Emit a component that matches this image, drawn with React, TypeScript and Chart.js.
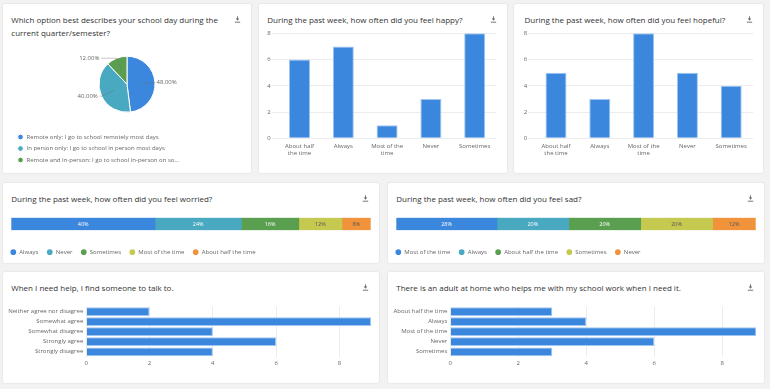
import React, { useEffect, useRef } from 'react';
import { Chart, registerables } from 'chart.js';

Chart.register(...registerables);

const FONT = "'Open Sans', sans-serif";
Chart.defaults.font.family = FONT;
Chart.defaults.color = '#666';

// ---------- data ----------
const schoolDayLabels = [
  'Remote only: I go to school remotely most days',
  'In person only: I go to school in person most days',
  'Remote and In-person: I go to school in-person on so...',
];
const schoolDayValues = [48, 40, 12];

const frequencyTickLabels: (string | string[])[] = [
  ['About half', 'the time'],
  'Always',
  ['Most of the', 'time'],
  'Never',
  'Sometimes',
];
const happyValues = [6, 7, 1, 3, 8];
const hopefulValues = [5, 3, 8, 5, 4];

const worriedLabels = ['Always', 'Never', 'Sometimes', 'Most of the time', 'About half the time'];
const worriedValues = [40, 24, 16, 12, 8];

const sadLabels = ['Most of the time', 'Always', 'About half the time', 'Sometimes', 'Never'];
const sadValues = [28, 20, 20, 20, 12];

const talkLabels = [
  'Neither agree nor disagree',
  'Somewhat agree',
  'Somewhat disagree',
  'Strongly agree',
  'Strongly disagree',
];
const talkValues = [2, 9, 4, 6, 4];

const adultLabels = ['About half the time', 'Always', 'Most of the time', 'Never', 'Sometimes'];
const adultValues = [3, 4, 9, 6, 3];

const countTicks = [0, 2, 4, 6, 8];

// ---------- styles ----------
const BLUE = '#3b87dd';
const BLUE_EDGE = '#9fc5f1';
const SEG_COLORS = ['#3b87dd', '#49a9c0', '#5a9f50', '#c5c94f', '#f0933a'];
const SEG_TEXT = ['#ffffff', '#ffffff', '#ffffff', '#555555', '#555555'];
const PIE_COLORS = ['#3b87dd', '#49a9c0', '#5a9f50'];
const GRID = '#ececec';
const TICK_FONT = { size: 6, family: FONT };

type Box = { left: number; top: number; width: number; height: number };

// ---------- plugins ----------
const pieLabelPlugin = {
  id: 'pieLabels',
  afterDatasetsDraw(chart: any) {
    const ctx = chart.ctx;
    const meta = chart.getDatasetMeta(0);
    const data = chart.data.datasets[0].data;
    ctx.save();
    ctx.font = `6px ${FONT}`;
    ctx.fillStyle = '#666';
    ctx.strokeStyle = 'rgba(110,110,110,0.55)';
    ctx.lineWidth = 0.7;
    meta.data.forEach((arc: any, i: number) => {
      const { x, y, startAngle, endAngle, outerRadius } = arc.getProps(
        ['x', 'y', 'startAngle', 'endAngle', 'outerRadius'],
        true
      );
      const mid = (startAngle + endAngle) / 2;
      const cx = Math.cos(mid);
      const cy = Math.sin(mid);
      const x1 = x + cx * outerRadius * 0.5;
      const y1 = y + cy * outerRadius * 0.5;
      const x2 = x + cx * outerRadius;
      const y2 = y + cy * outerRadius;
      const dir = cx >= 0 ? 1 : -1;
      const x3 = x2 + dir * 25 * (1 - Math.abs(cx));
      ctx.beginPath();
      ctx.moveTo(x1, y1);
      ctx.lineTo(x2, y2);
      ctx.lineTo(x3, y2);
      ctx.stroke();
      ctx.textAlign = dir > 0 ? 'left' : 'right';
      ctx.textBaseline = 'middle';
      ctx.fillText(Number(data[i]).toFixed(2) + '%', x3 + dir * 1.5, y2);
    });
    ctx.restore();
  },
};

const segmentLabelPlugin = {
  id: 'segmentLabels',
  afterDatasetsDraw(chart: any) {
    const ctx = chart.ctx;
    ctx.save();
    ctx.font = `5.5px ${FONT}`;
    ctx.textAlign = 'center';
    ctx.textBaseline = 'middle';
    chart.data.datasets.forEach((ds: any, i: number) => {
      const bar = chart.getDatasetMeta(i).data[0];
      const { x, base, y } = bar.getProps(['x', 'base', 'y'], true);
      ctx.fillStyle = SEG_TEXT[i];
      ctx.fillText(ds.data[0] + '%', (x + base) / 2, y + 0.3);
    });
    ctx.restore();
  },
};

// ---------- configs ----------
function pieConfig(): any {
  return {
    type: 'pie',
    data: {
      labels: schoolDayLabels,
      datasets: [
        {
          data: schoolDayValues,
          backgroundColor: PIE_COLORS,
          borderColor: '#ffffff',
          borderWidth: 1,
          radius: 28,
        },
      ],
    },
    options: {
      animation: false,
      responsive: true,
      maintainAspectRatio: false,
      layout: { padding: 0 },
      plugins: {
        legend: {
          position: 'bottom',
          align: 'start',
          labels: {
            usePointStyle: true,
            pointStyle: 'circle',
            boxWidth: 6,
            boxHeight: 4,
            padding: 5.5,
            font: TICK_FONT,
            color: '#666',
          },
        },
        tooltip: { enabled: false },
      },
    },
    plugins: [pieLabelPlugin],
  };
}

function columnConfig(values: number[], padLeft: number, padRight: number): any {
  return {
    type: 'bar',
    data: {
      labels: frequencyTickLabels,
      datasets: [
        {
          data: values,
          backgroundColor: BLUE,
          borderColor: BLUE_EDGE,
          borderWidth: 1,
          categoryPercentage: 0.8,
          barPercentage: 0.6,
        },
      ],
    },
    options: {
      animation: false,
      responsive: true,
      maintainAspectRatio: false,
      layout: { padding: { left: padLeft, right: padRight, top: 5.3, bottom: 9.7 } },
      scales: {
        x: {
          grid: { display: false, drawTicks: false },
          border: { display: false },
          ticks: {
            padding: 5,
            font: { size: 6, family: FONT, lineHeight: 1.15 },
            color: '#666',
            maxRotation: 0,
            autoSkip: false,
          },
          afterFit: (s: any) => {
            s.height = 25;
          },
        },
        y: {
          min: 0,
          max: 8,
          ticks: { padding: 1, font: TICK_FONT, color: '#666' },
          afterBuildTicks: (s: any) => {
            s.ticks = countTicks.map((v) => ({ value: v }));
          },
          grid: { color: GRID, tickLength: 6, lineWidth: 1 },
          border: { display: false },
          afterFit: (s: any) => {
            s.width = 12;
          },
        },
      },
      plugins: { legend: { display: false }, tooltip: { enabled: false } },
    },
  };
}

function stackedConfig(labels: string[], values: number[]): any {
  return {
    type: 'bar',
    data: {
      labels: [''],
      datasets: labels.map((l, i) => ({
        label: l,
        data: [values[i]],
        backgroundColor: SEG_COLORS[i],
        borderWidth: 0,
        categoryPercentage: 1,
        barPercentage: 1,
      })),
    },
    options: {
      indexAxis: 'y',
      animation: false,
      responsive: true,
      maintainAspectRatio: false,
      layout: { padding: { left: 0, right: 8.3, top: 7.7, bottom: 0 } },
      scales: {
        x: {
          stacked: true,
          min: 0,
          max: 100,
          grid: { display: false, drawTicks: false },
          border: { display: false },
          ticks: { display: false },
          afterFit: (s: any) => {
            s.height = 10.7;
          },
        },
        y: {
          stacked: true,
          grid: { display: false, drawTicks: false },
          border: { display: false },
          ticks: { display: false },
          afterFit: (s: any) => {
            s.width = 9.3;
          },
        },
      },
      plugins: {
        legend: {
          position: 'bottom',
          align: 'start',
          labels: {
            usePointStyle: true,
            pointStyle: 'circle',
            boxWidth: 6,
            boxHeight: 4,
            padding: 8.3,
            font: TICK_FONT,
            color: '#666',
          },
        },
        tooltip: { enabled: false },
      },
    },
    plugins: [segmentLabelPlugin],
  };
}

function hbarConfig(labels: string[], values: number[], axisWidth: number, padRight: number): any {
  return {
    type: 'bar',
    data: {
      labels,
      datasets: [
        {
          data: values,
          backgroundColor: BLUE,
          borderColor: BLUE_EDGE,
          borderWidth: 1,
          categoryPercentage: 1,
          barPercentage: 0.87,
        },
      ],
    },
    options: {
      indexAxis: 'y',
      animation: false,
      responsive: true,
      maintainAspectRatio: false,
      layout: { padding: { left: 0, right: padRight, top: 4.8, bottom: 14.2 } },
      scales: {
        x: {
          min: 0,
          max: 9,
          ticks: { padding: 2.5, font: TICK_FONT, color: '#666' },
          afterBuildTicks: (s: any) => {
            s.ticks = countTicks.map((v) => ({ value: v }));
          },
          grid: { color: GRID, drawTicks: false },
          border: { display: false },
          afterFit: (s: any) => {
            s.height = 12;
          },
        },
        y: {
          grid: { display: false, drawTicks: false },
          border: { display: false },
          ticks: { padding: 3, font: TICK_FONT, color: '#666', autoSkip: false },
          afterFit: (s: any) => {
            s.width = axisWidth;
          },
        },
      },
      plugins: { legend: { display: false }, tooltip: { enabled: false } },
    },
  };
}

// ---------- components ----------
function ChartBox({ box, make }: { box: Box; make: () => any }) {
  const ref = useRef<HTMLCanvasElement>(null);
  useEffect(() => {
    const chart = new Chart(ref.current as HTMLCanvasElement, make());
    return () => chart.destroy();
  }, []);
  return (
    <div
      style={{
        position: 'absolute',
        left: box.left,
        top: box.top,
        width: box.width,
        height: box.height,
      }}
    >
      <canvas ref={ref} />
    </div>
  );
}

function DownloadIcon() {
  return (
    <svg width="7" height="7" viewBox="0 0 7 7" style={{ display: 'block' }}>
      <path d="M3.5 0.3 V4.2" stroke="#666" strokeWidth="0.9" />
      <path d="M1.6 2.6 L3.5 4.6 L5.4 2.6 Z" fill="#666" />
      <path d="M0.8 6.2 H6.2" stroke="#666" strokeWidth="0.9" />
    </svg>
  );
}

function Card({ box, title, titleLeft = 8.3 }: { box: Box; title: React.ReactNode; titleLeft?: number }) {
  return (
    <div
      style={{
        position: 'absolute',
        left: box.left,
        top: box.top,
        width: box.width,
        height: box.height,
        background: '#ffffff',
        boxShadow: '0 0 2px rgba(0,0,0,0.13)',
        borderRadius: 2,
      }}
    >
      <div
        style={{
          position: 'absolute',
          left: titleLeft,
          top: 8.7,
          fontFamily: FONT,
          fontSize: 8,
          lineHeight: '13px',
          color: '#333',
          whiteSpace: 'nowrap',
        }}
      >
        {title}
      </div>
      <div style={{ position: 'absolute', right: 10.5, top: 11.5 }}>
        <DownloadIcon />
      </div>
    </div>
  );
}

export default function App() {
  return (
    <div
      style={{
        position: 'fixed',
        left: 0,
        top: 0,
        width: 770,
        height: 389,
        background: '#f2f2f2',
        overflow: 'hidden',
      }}
    >
      <Card
        box={{ left: 3, top: 4, width: 248, height: 169 }}
        title={
          <>
            Which option best describes your school day during the
            <br />
            current quarter/semester?
          </>
        }
      />
      <Card box={{ left: 259, top: 4, width: 248, height: 169 }} title="During the past week, how often did you feel happy?" />
      <Card box={{ left: 514, top: 4, width: 249, height: 169 }} title="During the past week, how often did you feel hopeful?" titleLeft={10.5} />
      <Card box={{ left: 3, top: 183, width: 376, height: 80 }} title="During the past week, how often did you feel worried?" />
      <Card box={{ left: 388, top: 183, width: 376, height: 80 }} title="During the past week, how often did you feel sad?" />
      <Card box={{ left: 3, top: 272, width: 376, height: 111 }} title="When I need help, I find someone to talk to." />
      <Card box={{ left: 388, top: 272, width: 376, height: 111 }} title="There is an adult at home who helps me with my school work when I need it." />

      <ChartBox box={{ left: 12, top: 40, width: 230, height: 133 }} make={pieConfig} />
      <ChartBox box={{ left: 259, top: 28, width: 248, height: 145 }} make={() => columnConfig(happyValues, 6.6, 10.4)} />
      <ChartBox box={{ left: 514, top: 28, width: 249, height: 145 }} make={() => columnConfig(hopefulValues, 8.1, 9.9)} />
      <ChartBox box={{ left: 2, top: 210, width: 377, height: 54 }} make={() => stackedConfig(worriedLabels, worriedValues)} />
      <ChartBox box={{ left: 387, top: 210, width: 377, height: 54 }} make={() => stackedConfig(sadLabels, sadValues)} />
      <ChartBox box={{ left: 3, top: 300, width: 376, height: 83 }} make={() => hbarConfig(talkLabels, talkValues, 83.3, 8)} />
      <ChartBox box={{ left: 388, top: 300, width: 376, height: 83 }} make={() => hbarConfig(adultLabels, adultValues, 62.3, 7.7)} />
    </div>
  );
}
